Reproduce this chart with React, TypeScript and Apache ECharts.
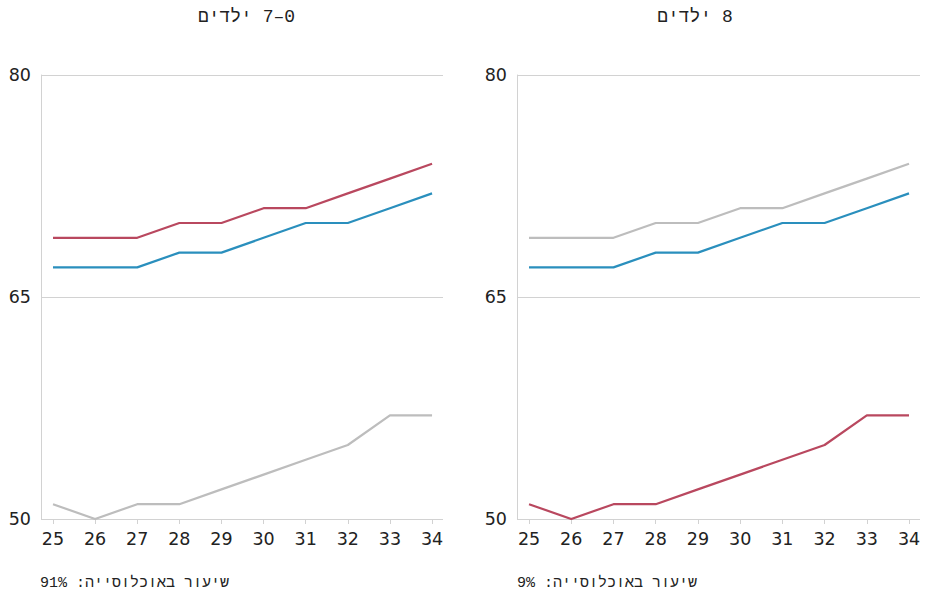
import React, { useEffect, useRef } from "react";
import * as echarts from "echarts";

const ages = [25, 26, 27, 28, 29, 30, 31, 32, 33, 34];
const redLeft = [69, 69, 69, 70, 70, 71, 71, 72, 73, 74];
const blueLine = [67, 67, 67, 68, 68, 69, 70, 70, 71, 72];
const grayLeft = [51, 50, 51, 51, 52, 53, 54, 55, 57, 57];
const grayRight = [69, 69, 69, 70, 70, 71, 71, 72, 73, 74];
const redRight = [51, 50, 51, 51, 52, 53, 54, 55, 57, 57];
const yTicks = [50, 65, 80];
const titles = ["0–7 ילדים", "8 ילדים"];
const shares = ["שיעור באוכלוסייה: 91%", "שיעור באוכלוסייה: 9%"];

const RED = "#b9485f";
const BLUE = "#2a8fbd";
const GRAY = "#bdbdbd";
const FONT = "Liberation Mono";
const AXFONT = "DejaVu Sans";
const TEXT = "#222";
const LINE = "#d2d2d2";

const rtl = (s: string) => "\u202B" + s + "\u202C";

export default function App() {
  const ref = useRef<HTMLDivElement>(null);
  useEffect(() => {
    if (!ref.current) return;
    const chart = echarts.init(ref.current, undefined, { renderer: "svg" });
    const pairs = (ys: number[]) => ys.map((y, i) => [ages[i], y]);
    const xAxis = (gi: number) => ({
      type: "value",
      gridIndex: gi,
      min: 24.715,
      max: 34.26,
      axisLine: { show: false },
      splitLine: { show: false },
      axisTick: {
        show: true,
        length: 5,
        lineStyle: { color: LINE, width: 1 },
        customValues: ages,
      },
      axisLabel: {
        customValues: ages,
        margin: 11,
        fontFamily: AXFONT,
        fontSize: 17.5,
        color: TEXT,
      },
    });
    const yAxis = (gi: number) => ({
      type: "value",
      gridIndex: gi,
      min: yTicks[0],
      max: yTicks[yTicks.length - 1],
      interval: 15,
      axisLine: { show: true, lineStyle: { color: LINE, width: 1 } },
      axisTick: { show: false },
      splitLine: { show: true, lineStyle: { color: LINE, width: 1 } },
      axisLabel: {
        margin: 10,
        fontFamily: AXFONT,
        fontSize: 17.5,
        color: TEXT,
      },
    });
    const line = (gi: number, ys: number[], color: string, z: number) => ({
      type: "line",
      xAxisIndex: gi,
      yAxisIndex: gi,
      data: pairs(ys),
      symbol: "none",
      z,
      lineStyle: { color, width: 2.2 },
    });
    const text = (x: number, y: number, s: string, size: number, align: string) => ({
      type: "text",
      x,
      y,
      style: {
        text: rtl(s),
        font: `${size}px "${FONT}"`,
        fill: TEXT,
        textAlign: align,
        textVerticalAlign: "middle",
      },
    });
    chart.setOption({
      animation: false,
      backgroundColor: "#fff",
      grid: [
        { left: 41, width: 402, top: 75, height: 444 },
        { left: 517, width: 403, top: 75, height: 444 },
      ],
      xAxis: [xAxis(0), xAxis(1)],
      yAxis: [yAxis(0), yAxis(1)],
      graphic: [
        text(246.5, 17, titles[0], 18, "center"),
        text(695, 17, titles[1], 18, "center"),
        text(40, 583, shares[0], 15, "left"),
        text(517, 583, shares[1], 15, "left"),
      ],
      series: [
        line(0, grayLeft, GRAY, 2),
        line(0, blueLine, BLUE, 3),
        line(0, redLeft, RED, 4),
        line(1, grayRight, GRAY, 2),
        line(1, blueLine, BLUE, 3),
        line(1, redRight, RED, 4),
      ],
    });
    return () => chart.dispose();
  }, []);
  return <div ref={ref} style={{ width: 929, height: 596, position: "absolute", left: 0, top: 0 }} />;
}
